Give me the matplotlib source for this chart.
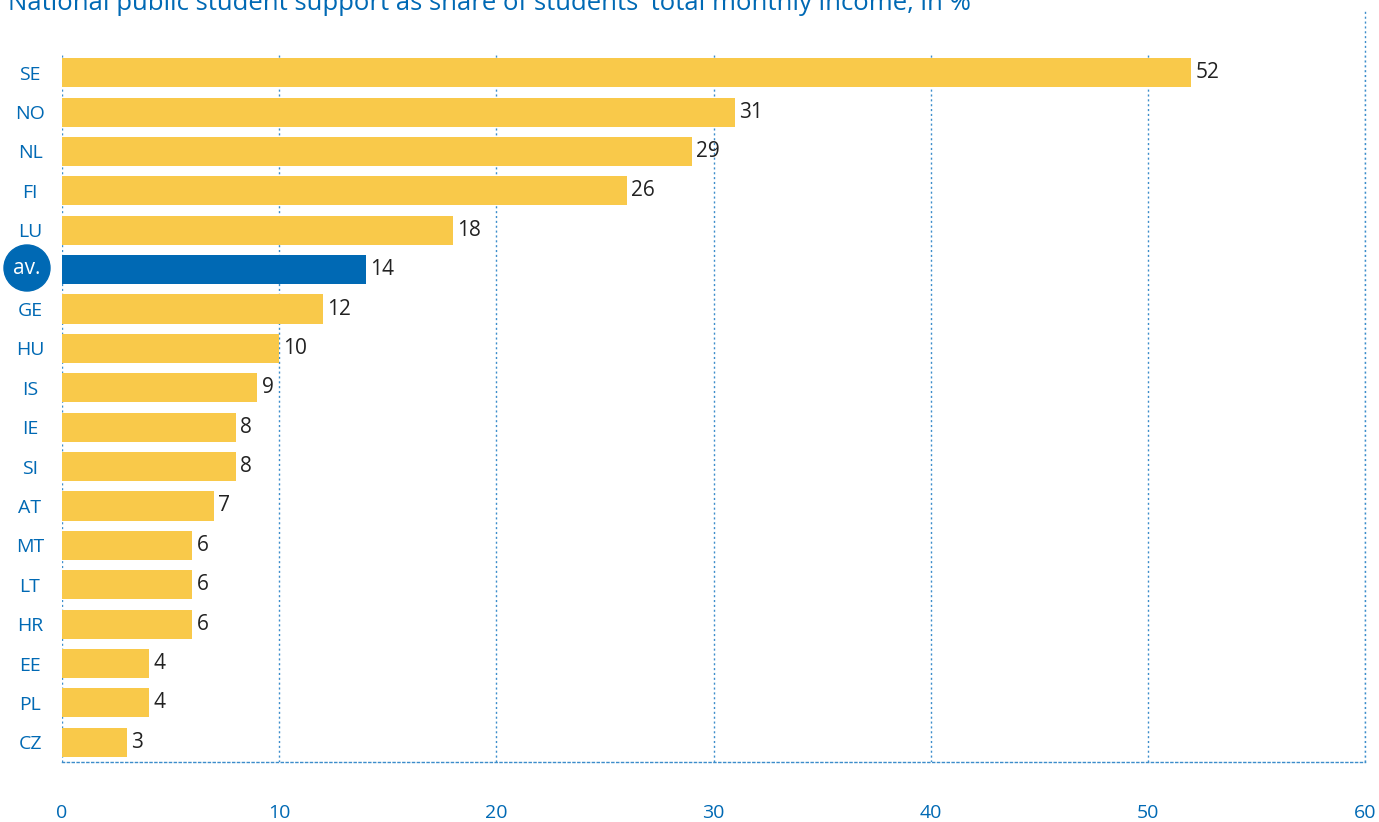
import matplotlib.pyplot as plt
from matplotlib.patches import Ellipse

# Dados
countries = ["SE", "NO", "NL", "FI", "LU", "av.", "GE", "HU", "IS", "IE",
             "SI", "AT", "MT", "LT", "HR", "EE", "PL", "CZ"]
values = [52, 31, 29, 26, 18, 14, 12, 10, 9, 8, 8, 7, 6, 6, 6, 4, 4, 3]
xticks = [0, 10, 20, 30, 40, 50, 60]
title = "National public student support as share of students' total monthly income, in %"

YELLOW = "#F9C94A"
BLUE = "#0069B4"
GRID = "#3C8DCB"

plt.rcParams['font.family'] = ['Open Sans', 'DejaVu Sans']

fig = plt.figure(figsize=(13.79, 8.22), dpi=100)
ax = fig.add_axes([62 / 1379, 1 - 762 / 822, (1365 - 62) / 1379, (762 - 53) / 822])

pos = list(range(len(countries)))
colors = [BLUE if c == "av." else YELLOW for c in countries]
ax.barh(pos, values, height=0.74, color=colors, zorder=3)

for p, v in zip(pos, values):
    ax.text(v + 0.2, p, str(v), va='center', ha='left', fontsize=15, color="#222222")

ax.set_xlim(0, 60)
ax.set_ylim(len(countries) - 0.5, -0.5)
ax.set_xticks(xticks)
ax.set_xticklabels([str(t) for t in xticks])
ax.set_yticks(pos)
ax.set_yticklabels([c if c != "av." else "" for c in countries])
ax.tick_params(axis='both', length=0, labelcolor=BLUE, labelsize=14)
ax.tick_params(axis='x', pad=30)
ax.tick_params(axis='y', pad=23)
for lbl in ax.get_yticklabels():
    lbl.set_horizontalalignment('center')

ax.grid(axis='x', linestyle=(0, (1.5, 2)), color=GRID, linewidth=1, zorder=1)
for s in ['top', 'right', 'left']:
    ax.spines[s].set_visible(False)
ax.spines['bottom'].set_linestyle((0, (1.5, 2)))
ax.spines['bottom'].set_color(GRID)
ax.spines['bottom'].set_linewidth(1)

# linha vertical em 60 prolongada até o topo
ax.plot([60, 60], [0, (762 - 10) / (762 - 53)], transform=ax.get_xaxis_transform(),
        clip_on=False, linestyle=(0, (1.5, 2)), color=GRID, linewidth=1, zorder=1)

# círculo "av."
cx, cy = 27 / 1379, 1 - 268 / 822
circ = Ellipse((cx, cy), 46 / 1379, 46 / 822, transform=fig.transFigure,
               color=BLUE, zorder=5)
fig.patches.append(circ)
fig.text(cx, cy, "av.", color="white", fontsize=15, ha='center', va='center', zorder=6)

fig.text(8 / 1379, 1 - 10 / 822, title, color=BLUE, fontsize=18.5, ha='left', va='baseline')

fig.savefig("out.png", dpi=100)
